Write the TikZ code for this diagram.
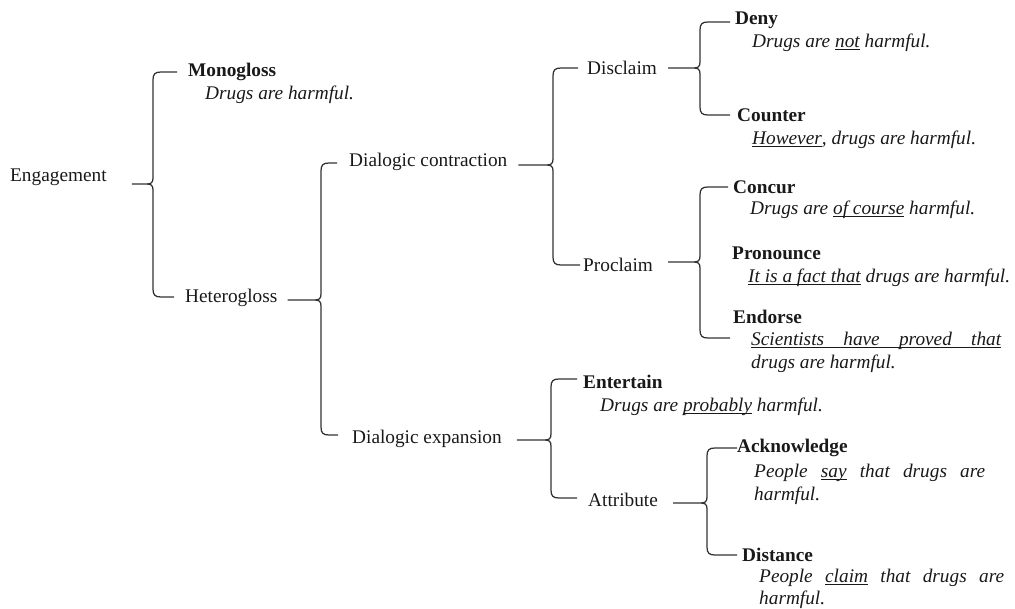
\documentclass[tikz,border=0pt]{standalone}
\usepackage{fontspec}
\setmainfont{Liberation Serif}
\usetikzlibrary{calc}
\newcommand\ulx[1]{\underline{\smash{#1}}}
\tikzset{
  txt/.style={anchor=west, inner sep=0pt, text=black!90, font=\fontsize{19.3}{22.5}\selectfont},
  plain/.style={txt},
  head/.style={txt, font=\fontsize{19.3}{22.5}\selectfont\bfseries},
  ex/.style={txt, font=\fontsize{19.3}{22.5}\selectfont\itshape, align=left},
  bracestyle/.style={draw=black!80, line width=1.25pt, line join=round}
}
\newcommand\cbrace[4]{%
\draw[bracestyle] let \p1=#1, \p2=(#2,0), \p3=#3, \p4=#4 in
 (\x1,\y1) -- (\x2-7pt,\y1) .. controls (\x2-2pt,\y1) and (\x2,\y1+1pt) .. (\x2,\y1+6pt)
 -- (\x2,\y3-8pt) .. controls (\x2,\y3-2pt) and (\x2+2pt,\y3) .. (\x2+8pt,\y3) -- (\x3,\y3)
 (\x2-7pt,\y1) .. controls (\x2-2pt,\y1) and (\x2,\y1-1pt) .. (\x2,\y1-6pt)
 -- (\x2,\y4+8pt) .. controls (\x2,\y4+2pt) and (\x2+2pt,\y4) .. (\x2+8pt,\y4) -- (\x4,\y4);}
\begin{document}
\begin{tikzpicture}[x=1pt,y=1pt]
\useasboundingbox (0,0) rectangle (1015,-609);
% level 0/1
\node[plain] (eng) at (10,-177) {Engagement};
\node[head] (mono) at (188,-72) {Monogloss};
\node[ex] (monoex) at (205,-95) {Drugs are harmful.};
\node[plain] (het) at (185,-298) {Heterogloss};
% level 2
\node[plain] (dcon) at (349,-162) {Dialogic contraction};
\node[plain] (dexp) at (352,-439) {Dialogic expansion};
% level 3
\node[plain] (discl) at (587,-68) {Disclaim};
\node[plain] (procl) at (583,-265) {Proclaim};
\node[head] (ent) at (583,-382) {Entertain};
\node[ex] (entex) at (600,-407) {Drugs are \ulx{probably} harmful.};
\node[plain] (attr) at (588,-500) {Attribute};
% level 4
\node[head] (deny) at (735,-20) {Deny};
\node[ex] (denyex) at (752,-43) {Drugs are \ulx{not} harmful.};
\node[head] (counter) at (737,-115) {Counter};
\node[ex] (counterex) at (752,-140) {\ulx{However}, drugs are harmful.};
\node[head] (concur) at (733,-187) {Concur};
\node[ex] (concurex) at (750,-210) {Drugs are \ulx{of course} harmful.};
\node[head] (pron) at (732,-253) {Pronounce};
\node[ex] (pronex) at (748,-278) {\ulx{It is a fact that} drugs are harmful.};
\node[head] (endorse) at (733,-317) {Endorse};
\node[ex] (endex) at (751,-352.5) {\ulx{\hbox to 250pt{Scientists\hfill have\hfill proved\hfill that}}\vphantom{Sp}\\drugs are harmful.};
\node[head] (ack) at (737,-448) {Acknowledge};
\node[ex] (ackex) at (754,-484.5) {\hbox to 231pt{People\hfill \ulx{say}\hfill that\hfill drugs\hfill are}\\harmful.};
\node[head] (dist) at (742,-555) {Distance};
\node[ex] (distex) at (759,-589) {\hbox to 245pt{People\hfill \ulx{claim}\hfill that\hfill drugs\hfill are}\\harmful.};
% braces
\cbrace{($(eng.east)+(25,-7)$)}{153}{($(mono.west)+(-11,0)$)}{($(het.west)+(-11,1)$)}
\cbrace{($(het.east)+(10,-2)$)}{321}{($(dcon.west)+(-12,-1)$)}{($(dexp.west)+(-14,4)$)}
\cbrace{($(dcon.east)+(11,-3)$)}{553}{($(discl.west)+(-9,0)$)}{($(procl.west)+(-3,0)$)}
\cbrace{($(discl.east)+(11,0)$)}{700}{($(deny.west)+(-5,-2)$)}{($(counter.west)+(-7,0)$)}
\cbrace{($(procl.east)+(15,3)$)}{700}{($(concur.west)+(-5,0)$)}{($(endex.west)+(-21,14.5)$)}
\cbrace{($(dexp.east)+(15,-1)$)}{551}{($(ent.west)+(-6,3)$)}{($(attr.west)+(-11,2)$)}
\cbrace{($(attr.east)+(15,-3)$)}{707}{($(ack.west)+(0,0)$)}{($(dist.west)+(-5,0)$)}
\end{tikzpicture}
\end{document}
